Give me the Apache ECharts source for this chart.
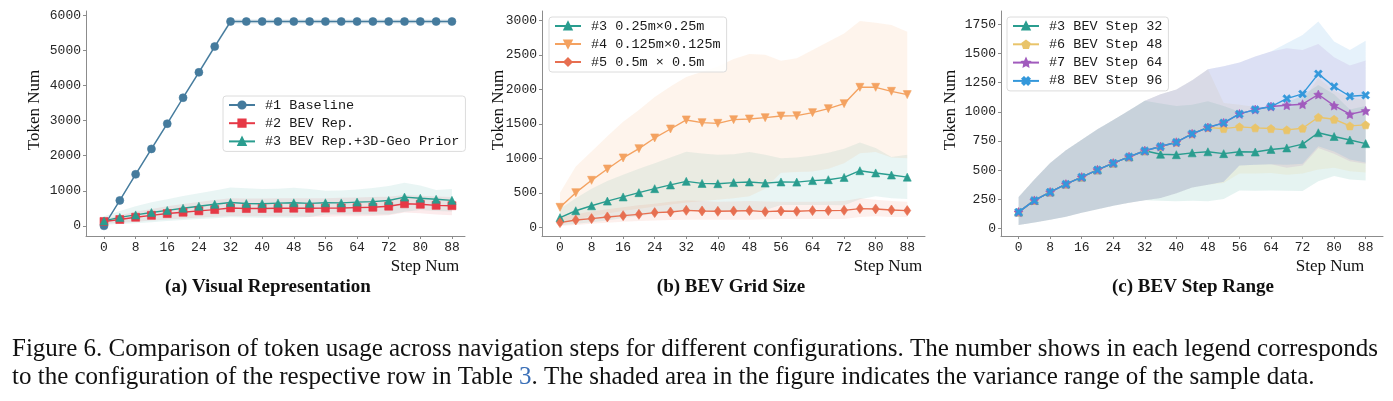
<!DOCTYPE html>
<html>
<head>
<meta charset="UTF-8" />
<title>Figure 6</title>
<script src="https://cdn.jsdelivr.net/npm/echarts@6/dist/echarts.min.js"></script>
<style>
  html, body { margin: 0; padding: 0; background: #fff; }
  #chart { width: 1393px; height: 401px; }
</style>
</head>
<body>
<div id="chart"></div>
<script>
// x positions (navigation steps)
var steps = [0,4,8,12,16,20,24,28,32,36,40,44,48,52,56,60,64,68,72,76,80,84,88];
var xTicks = [0,8,16,24,32,40,48,56,64,72,80,88];
var yTicksA = [0,1000,2000,3000,4000,5000,6000];
var yTicksB = [0,500,1000,1500,2000,2500,3000];
var yTicksC = [0,250,500,750,1000,1250,1500,1750];

// (a) visual representation
var baseline   = [0,725,1470,2195,2915,3655,4380,5115,5830,5830,5830,5830,5830,5830,5830,5830,5830,5830,5830,5830,5830,5830,5830];
var baselineLo = [0,690,1430,2150,2870,3610,4330,5060,5770,5770,5770,5770,5770,5770,5770,5770,5770,5770,5770,5770,5770,5770,5770];
var baselineHi = [0,760,1510,2240,2960,3700,4430,5170,5890,5890,5890,5890,5890,5890,5890,5890,5890,5890,5890,5890,5890,5890,5890];
var bevRep   = [125,180,245,300,350,388,427,464,510,493,495,500,502,502,505,510,520,530,560,630,615,585,575];
var bevRepLo = [60,90,120,150,180,210,240,260,280,270,270,270,270,260,260,270,270,280,300,380,360,320,300];
var bevRepHi = [190,300,400,480,560,620,680,740,790,780,780,790,790,790,790,800,810,820,830,880,860,840,820];
// #3 (same configuration in all three panels)
var geo   = [140,240,312,380,440,502,560,614,666,636,632,648,657,641,657,655,677,690,723,820,788,758,727];
var geoLo = [30,50,75,100,135,165,195,220,242,238,232,238,232,252,325,322,325,322,320,405,450,420,410];
var geoHi = [270,420,560,670,760,850,930,1010,1095,1070,1050,1060,1090,1050,1000,1010,1040,1080,1140,1230,1150,1020,1050];

// (b) BEV grid size
var grid4   = [290,502,681,845,1005,1140,1295,1425,1556,1517,1507,1560,1570,1589,1614,1618,1662,1720,1792,2029,2029,1971,1923];
var grid4Lo = [80,120,160,200,240,270,300,330,360,380,400,420,450,560,790,800,810,850,930,1075,1090,1010,1000];
var grid4Hi = [500,880,1100,1320,1530,1700,1890,2040,2180,2256,2330,2440,2510,2500,2415,2450,2570,2690,2810,2990,2966,2932,2835];
var grid5   = [68,106,126,150,169,188,213,222,246,237,232,237,242,227,237,232,242,242,246,271,266,251,242];
var grid5Lo = [20,35,50,65,80,90,100,105,110,110,110,110,110,115,120,120,120,120,120,150,160,150,150];
var grid5Hi = [150,190,230,260,290,320,340,370,390,380,370,375,380,375,370,370,370,375,380,420,400,380,370];

// (c) BEV step range
var step48   = [140,240,312,380,440,502,560,614,666,702,739,811,865,856,871,862,856,845,859,953,936,879,888];
var step48Lo = [30,50,75,100,135,165,195,220,242,260,302,350,374,390,470,470,475,460,470,505,520,490,480];
var step48Hi = [270,420,560,670,760,850,930,1010,1095,1150,1190,1270,1365,1075,1060,1040,1025,1015,1085,1290,1180,1120,1105];
var step64   = [140,240,312,380,440,502,560,614,666,702,739,811,865,905,982,1019,1045,1056,1065,1148,1053,979,1008];
var step64Lo = [30,50,75,100,135,165,195,220,242,260,302,350,374,400,540,545,550,520,540,690,640,575,555];
var step64Hi = [270,420,560,670,760,850,930,1010,1095,1150,1190,1270,1365,1390,1422,1473,1516,1545,1530,1582,1468,1396,1440];
var step96   = [140,240,312,380,440,502,560,614,666,702,739,811,865,905,982,1019,1045,1113,1153,1325,1216,1133,1142];
var step96Lo = [30,50,75,100,135,165,195,220,242,260,302,350,374,400,540,545,550,545,555,705,660,590,565];
var step96Hi = [270,420,560,670,760,850,930,1010,1095,1150,1190,1270,1365,1390,1422,1473,1516,1588,1659,1773,1602,1530,1610];

var C_BASE = '#457b9d', C_REP = '#e63946', C_GEO = '#2a9d8f', C_G4 = '#f4a261',
    C_G5 = '#e76f51', C_S48 = '#e9c46a', C_S64 = '#a15bbd', C_S96 = '#3498db';

var SYM_DIAMOND = 'path://M0,-10L6.5,0L0,10L-6.5,0Z';
var SYM_PENTA = 'path://M0,-10L9.5,-3.1L5.9,8.1L-5.9,8.1L-9.5,-3.1Z';
var SYM_STAR = 'path://M0,-10L2.9,-4L9.5,-3.1L4.7,1.5L5.9,8.1L0,5L-5.9,8.1L-4.7,1.5L-9.5,-3.1L-2.9,-4Z';
var SYM_X = 'path://M-4,-7L0,-3L4,-7L7,-4L3,0L7,4L4,7L0,3L-4,7L-7,4L-3,0L-7,-4Z';

var monoFont = '"Liberation Mono", "DejaVu Sans Mono", monospace';
var serifFont = '"Liberation Serif", "DejaVu Serif", serif';
var axisGray = '#8c8c8c';

function band(k, lo, hi, color, alpha) {
  return {
    type: 'custom', xAxisIndex: k, yAxisIndex: k, silent: true, z: 1,
    data: steps.map(function (s, i) { return [s, lo[i], hi[i]]; }),
    encode: { x: 0, y: [1, 2] },
    renderItem: function (params, api) {
      if (params.dataIndex !== 0) return null;
      var pts = [];
      for (var i = 0; i < steps.length; i++) pts.push(api.coord([steps[i], hi[i]]));
      for (var j = steps.length - 1; j >= 0; j--) pts.push(api.coord([steps[j], lo[j]]));
      return { type: 'polygon', shape: { points: pts }, style: { fill: color, opacity: alpha } };
    }
  };
}

function line(k, name, vals, color, symbol, size, rotate) {
  return {
    type: 'line', name: name, xAxisIndex: k, yAxisIndex: k, z: 3,
    data: steps.map(function (s, i) { return [s, vals[i]]; }),
    symbol: symbol, symbolSize: size, symbolRotate: rotate || 0, showSymbol: true,
    lineStyle: { color: color, width: 1.4 },
    itemStyle: { color: color, borderColor: color, borderWidth: 0.6 }
  };
}

function plain(v) { return String(v); }

function xAxis(k, min, max) {
  return {
    type: 'value', gridIndex: k, min: min, max: max,
    axisLine: { show: true, onZero: false, lineStyle: { color: axisGray, width: 1 } },
    axisTick: { show: true, length: 3, customValues: xTicks, lineStyle: { color: axisGray } },
    axisLabel: { customValues: xTicks, formatter: plain, margin: 5, fontFamily: monoFont, fontSize: 13, color: '#262626' },
    splitLine: { show: false }
  };
}
function yAxis(k, min, max, ticks) {
  return {
    type: 'value', gridIndex: k, min: min, max: max,
    axisLine: { show: true, onZero: false, lineStyle: { color: axisGray, width: 1 } },
    axisTick: { show: true, length: 3, customValues: ticks, lineStyle: { color: axisGray } },
    axisLabel: { customValues: ticks, formatter: plain, margin: 5, fontFamily: monoFont, fontSize: 13, color: '#262626' },
    splitLine: { show: false }
  };
}
function legend(names, left, top, gap) {
  return {
    data: names, orient: 'vertical', left: left, top: top,
    itemWidth: 26, itemHeight: 9, itemGap: gap,
    padding: [2, 6, 3, 5],
    backgroundColor: 'rgba(255,255,255,0.85)', borderColor: '#dcdcdc', borderWidth: 1, borderRadius: 3,
    textStyle: { fontFamily: monoFont, fontSize: 13.5, color: '#1a1a1a', padding: [0, 0, 0, 5] },
    selectedMode: false
  };
}
function label(x, y, text, size, bold, rot) {
  return {
    type: 'text', x: x, y: y, rotation: rot || 0,
    style: { text: text, font: (bold ? 'bold ' : '') + size + 'px ' + serifFont, fill: '#111',
             textAlign: 'center', textVerticalAlign: 'middle' }
  };
}

var chart = echarts.init(document.getElementById('chart'), null, { renderer: 'canvas' });
chart.setOption({
  animation: false,
  backgroundColor: '#fff',
  grid: [
    { left: 86, top: 11, width: 379, height: 225 },
    { left: 542, top: 11, width: 383, height: 225 },
    { left: 1001, top: 11, width: 382, height: 225 }
  ],
  xAxis: [xAxis(0, -4.55, 91.3), xAxis(1, -4.56, 92.5), xAxis(2, -4.46, 92.4)],
  yAxis: [yAxis(0, -290, 6130, yTicksA), yAxis(1, -126, 3135, yTicksB), yAxis(2, -65, 1864, yTicksC)],
  legend: [
    legend(['#1 Baseline', '#2 BEV Rep.', '#3 BEV Rep.+3D-Geo Prior'], 223, 96, 4.2),
    legend(['#3 0.25m×0.25m', '#4 0.125m×0.125m', '#5 0.5m × 0.5m'], 549, 17, 4),
    legend(['#3 BEV Step 32', '#6 BEV Step 48', '#7 BEV Step 64', '#8 BEV Step 96'], 1007, 17, 4.3)
  ],
  series: [
    band(0, baselineLo, baselineHi, C_BASE, 0.18),
    band(0, bevRepLo, bevRepHi, C_REP, 0.1),
    band(0, geoLo, geoHi, C_GEO, 0.1),
    line(0, '#1 Baseline', baseline, C_BASE, 'circle', 8),
    line(0, '#2 BEV Rep.', bevRep, C_REP, 'rect', 8),
    line(0, '#3 BEV Rep.+3D-Geo Prior', geo, C_GEO, 'triangle', 8),

    band(1, geoLo, geoHi, C_GEO, 0.1),
    band(1, grid4Lo, grid4Hi, C_G4, 0.12),
    band(1, grid5Lo, grid5Hi, C_G5, 0.1),
    line(1, '#3 0.25m×0.25m', geo, C_GEO, 'triangle', 8),
    line(1, '#4 0.125m×0.125m', grid4, C_G4, 'triangle', 8, 180),
    line(1, '#5 0.5m × 0.5m', grid5, C_G5, SYM_DIAMOND, [7, 10]),

    band(2, geoLo, geoHi, C_GEO, 0.12),
    band(2, step48Lo, step48Hi, C_S48, 0.12),
    band(2, step64Lo, step64Hi, C_S64, 0.12),
    band(2, step96Lo, step96Hi, C_S96, 0.12),
    line(2, '#3 BEV Step 32', geo, C_GEO, 'triangle', 8),
    line(2, '#6 BEV Step 48', step48, C_S48, SYM_PENTA, 8),
    line(2, '#7 BEV Step 64', step64, C_S64, SYM_STAR, 9),
    line(2, '#8 BEV Step 96', step96, C_S96, SYM_X, 8)
  ],
  graphic: [
    label(35, 110, 'Token Num', 17, false, Math.PI / 2),
    label(499, 110, 'Token Num', 17, false, Math.PI / 2),
    label(951, 110, 'Token Num', 17, false, Math.PI / 2),
    label(425, 267, 'Step Num', 17),
    label(888, 267, 'Step Num', 17),
    label(1330, 267, 'Step Num', 17),
    label(268, 287, '(a) Visual Representation', 19, true),
    label(731, 287, '(b) BEV Grid Size', 19, true),
    label(1193, 287, '(c) BEV Step Range', 19, true),
    {
      type: 'text', x: 12, y: 349,
      style: { text: 'Figure 6. Comparison of token usage across navigation steps for different configurations. The number shows in each legend corresponds',
               font: '25px ' + serifFont, fill: '#111', textVerticalAlign: 'middle' }
    },
    {
      type: 'text', x: 12, y: 377,
      style: { text: 'to the configuration of the respective row in Table {b|3}. The shaded area in the figure indicates the variance range of the sample data.',
               font: '25px ' + serifFont, fill: '#111', textVerticalAlign: 'middle',
               rich: { b: { fill: '#3a6fb7', font: '25px ' + serifFont } } }
    }
  ]
});
</script>
</body>
</html>
